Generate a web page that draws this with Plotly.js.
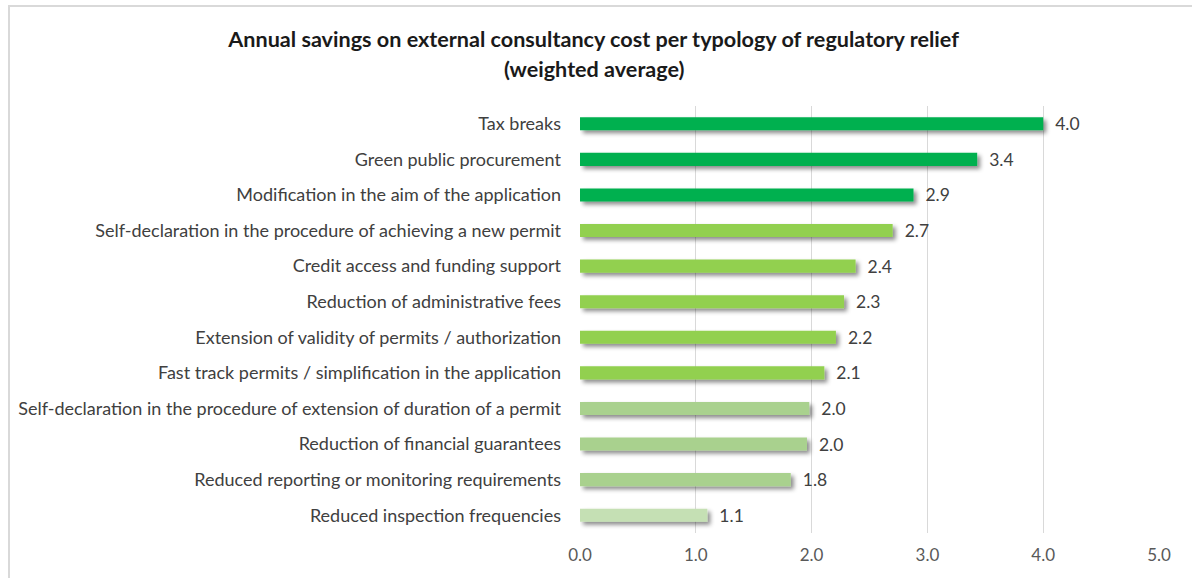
<!DOCTYPE html>
<html>
<head>
<meta charset="utf-8">
<script src="https://cdn.plot.ly/plotly-3.0.1.min.js"></script>
<style>
  html, body { margin: 0; padding: 0; background: #ffffff; }
  #wrap { position: relative; width: 1192px; height: 578px; overflow: hidden; }
  #frame { position: absolute; left: 8px; top: 5px; width: 1300px; height: 700px;
           border-top: 2px solid #d9d9d9; border-left: 2px solid #d9d9d9; }
  #chart { position: absolute; left: 0; top: 0; width: 1192px; height: 578px; }
</style>
</head>
<body>
<div id="wrap">
  <div id="frame"></div>
  <div id="chart"></div>
</div>
<script>
// Typologies of regulatory relief, top to bottom
const categories = [
  "Tax breaks",
  "Green public procurement",
  "Modification in the aim of the application",
  "Self-declaration in the procedure of achieving a new permit",
  "Credit access and funding support",
  "Reduction of administrative fees",
  "Extension of validity of permits / authorization",
  "Fast track permits / simplification in the application",
  "Self-declaration in the procedure of extension of duration of a permit",
  "Reduction of financial guarantees",
  "Reduced reporting or monitoring requirements",
  "Reduced inspection frequencies"
];

// Weighted average annual savings
const savings = [4.00, 3.43, 2.88, 2.70, 2.38, 2.28, 2.21, 2.11, 1.98, 1.96, 1.82, 1.10];

// Bar fill per typology (shade groups)
const barColors = [
  "#00B050", "#00B050", "#00B050",
  "#92D050", "#92D050", "#92D050", "#92D050", "#92D050",
  "#A9D18E", "#A9D18E", "#A9D18E",
  "#C5E0B4"
];

const xTicks = [0, 1, 2, 3, 4, 5];
const xTickLabels = ["0.0", "1.0", "2.0", "3.0", "4.0", "5.0"];

const FONT = "Lato, 'Open Sans', sans-serif";

const trace = {
  type: "bar",
  orientation: "h",
  y: categories,
  x: savings,
  marker: { color: barColors, line: { width: 0 } },
  texttemplate: "\u00a0\u00a0%{x:.1f}",
  textposition: "outside",
  constraintext: "none",
  cliponaxis: false,
  textfont: { family: FONT, size: 17.5, color: "#404040" },
  hoverinfo: "skip"
};

const layout = {
  width: 1192,
  height: 578,
  margin: { l: 580, r: 33, t: 106, b: 45, pad: 0 },
  paper_bgcolor: "rgba(0,0,0,0)",
  plot_bgcolor: "rgba(0,0,0,0)",
  showlegend: false,
  bargap: 0.63,
  title: {
    text: "<b>Annual savings on external consultancy cost per typology of regulatory relief</b>",
    font: { family: FONT, size: 21.6, color: "#1a1a1a" },
    x: 0.498, xanchor: "center",
    y: 0.931, yref: "container", yanchor: "middle"
  },
  annotations: [{
    text: "<b>(weighted average)</b>",
    xref: "paper", yref: "paper",
    x: 0.025, y: 1.087, xanchor: "center", yanchor: "middle",
    showarrow: false,
    font: { family: FONT, size: 21.6, color: "#1a1a1a" }
  }],
  xaxis: {
    range: [0, 5],
    tickvals: xTicks,
    ticktext: xTickLabels,
    showgrid: true,
    gridcolor: "#d9d9d9",
    gridwidth: 1,
    zeroline: false,
    showline: false,
    ticks: "",
    ticklabelstandoff: 10,
    tickfont: { family: FONT, size: 17, color: "#595959" },
    fixedrange: true
  },
  yaxis: {
    autorange: "reversed",
    showgrid: false,
    zeroline: false,
    showline: false,
    ticks: "",
    ticklabelstandoff: 18,
    tickfont: { family: FONT, size: 18, color: "#404040" },
    fixedrange: true
  }
};

// Soft drop shadow under each bar
function applyShadows(gd) {
  const svg = gd.querySelector("svg.main-svg");
  if (!svg) return;
  if (!document.getElementById("barShadow")) {
    const ns = "http://www.w3.org/2000/svg";
    let defs = svg.querySelector("defs");
    if (!defs) { defs = document.createElementNS(ns, "defs"); svg.insertBefore(defs, svg.firstChild); }
    const f = document.createElementNS(ns, "filter");
    f.setAttribute("id", "barShadow");
    f.setAttribute("x", "-10%");
    f.setAttribute("y", "-60%");
    f.setAttribute("width", "125%");
    f.setAttribute("height", "260%");
    const ds = document.createElementNS(ns, "feDropShadow");
    ds.setAttribute("dx", "3");
    ds.setAttribute("dy", "3");
    ds.setAttribute("stdDeviation", "2");
    ds.setAttribute("flood-color", "#000000");
    ds.setAttribute("flood-opacity", "0.45");
    f.appendChild(ds);
    defs.appendChild(f);
  }
  gd.querySelectorAll(".barlayer .point path").forEach(p => p.setAttribute("filter", "url(#barShadow)"));
}

const gd = document.getElementById("chart");
Plotly.newPlot(gd, [trace], layout, { displayModeBar: false, staticPlot: true }).then(() => {
  // center the subtitle under the title across the full width
  const plotW = 1192 - 580 - 33;
  const cx = (594 - 580) / plotW;
  Plotly.relayout(gd, { "annotations[0].x": cx }).then(() => applyShadows(gd));
});
gd.on && gd.on("plotly_afterplot", () => applyShadows(gd));
</script>
</body>
</html>
